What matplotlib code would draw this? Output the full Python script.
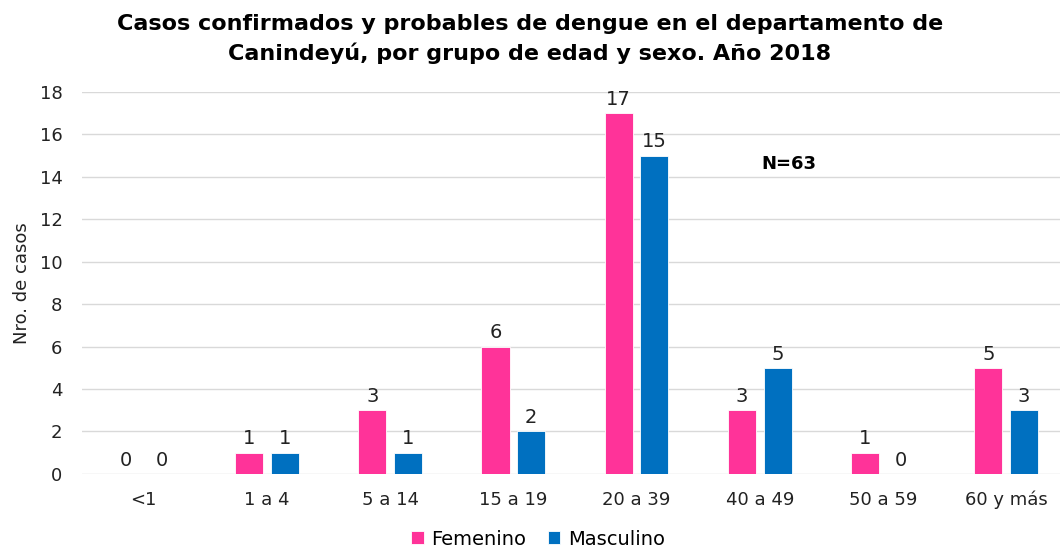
import numpy as np
import matplotlib.pyplot as plt

grupos = ["<1", "1 a 4", "5 a 14", "15 a 19", "20 a 39", "40 a 49", "50 a 59", "60 y más"]
femenino = [0, 1, 3, 6, 17, 3, 1, 5]
masculino = [0, 1, 1, 2, 15, 5, 0, 3]

rosa = "#FF3399"
azul = "#0070C0"

fig = plt.figure(figsize=(10.6, 5.51), dpi=100)
ax = fig.add_axes([0.0774, 0.14, 0.930, 0.693])

x = np.arange(len(grupos))
w = 0.228
off = 0.145
b1 = ax.bar(x - off, femenino, w, color=rosa, edgecolor="white", linewidth=0.6, label="Femenino", zorder=3)
b2 = ax.bar(x + off, masculino, w, color=azul, edgecolor="white", linewidth=0.6, label="Masculino", zorder=3)

for bars in (b1, b2):
    ax.bar_label(bars, padding=3, fontsize=14, color="#222222")

ax.set_xlim(-0.5, len(grupos) - 0.5)
ax.set_ylim(0, 18)
ax.set_yticks(range(0, 19, 2))
ax.set_xticks(x)
ax.set_xticklabels(grupos)
ax.tick_params(axis="both", length=0, labelsize=13, colors="#222222")
ax.tick_params(axis="x", pad=12)
ax.tick_params(axis="y", pad=14)
ax.grid(axis="y", color="#d9d9d9", linewidth=1, zorder=0)
for s in ax.spines.values():
    s.set_visible(False)

ax.set_ylabel("Nro. de casos", fontsize=13, color="#222222", labelpad=6)
ax.text(5.24, 14.6, "N=63", fontsize=13, fontweight="bold", ha="center", va="center")

fig.suptitle("Casos confirmados y probables de dengue en el departamento de\nCanindeyú, por grupo de edad y sexo. Año 2018",
             fontsize=16, fontweight="bold", y=0.975, linespacing=1.5)

ax.legend(loc="upper center", bbox_to_anchor=(0.4625, -0.1), ncol=2, frameon=False,
          fontsize=14, handlelength=0.65, handleheight=0.65, handletextpad=0.4, columnspacing=1.1)

fig.savefig("out.png", dpi=100)
